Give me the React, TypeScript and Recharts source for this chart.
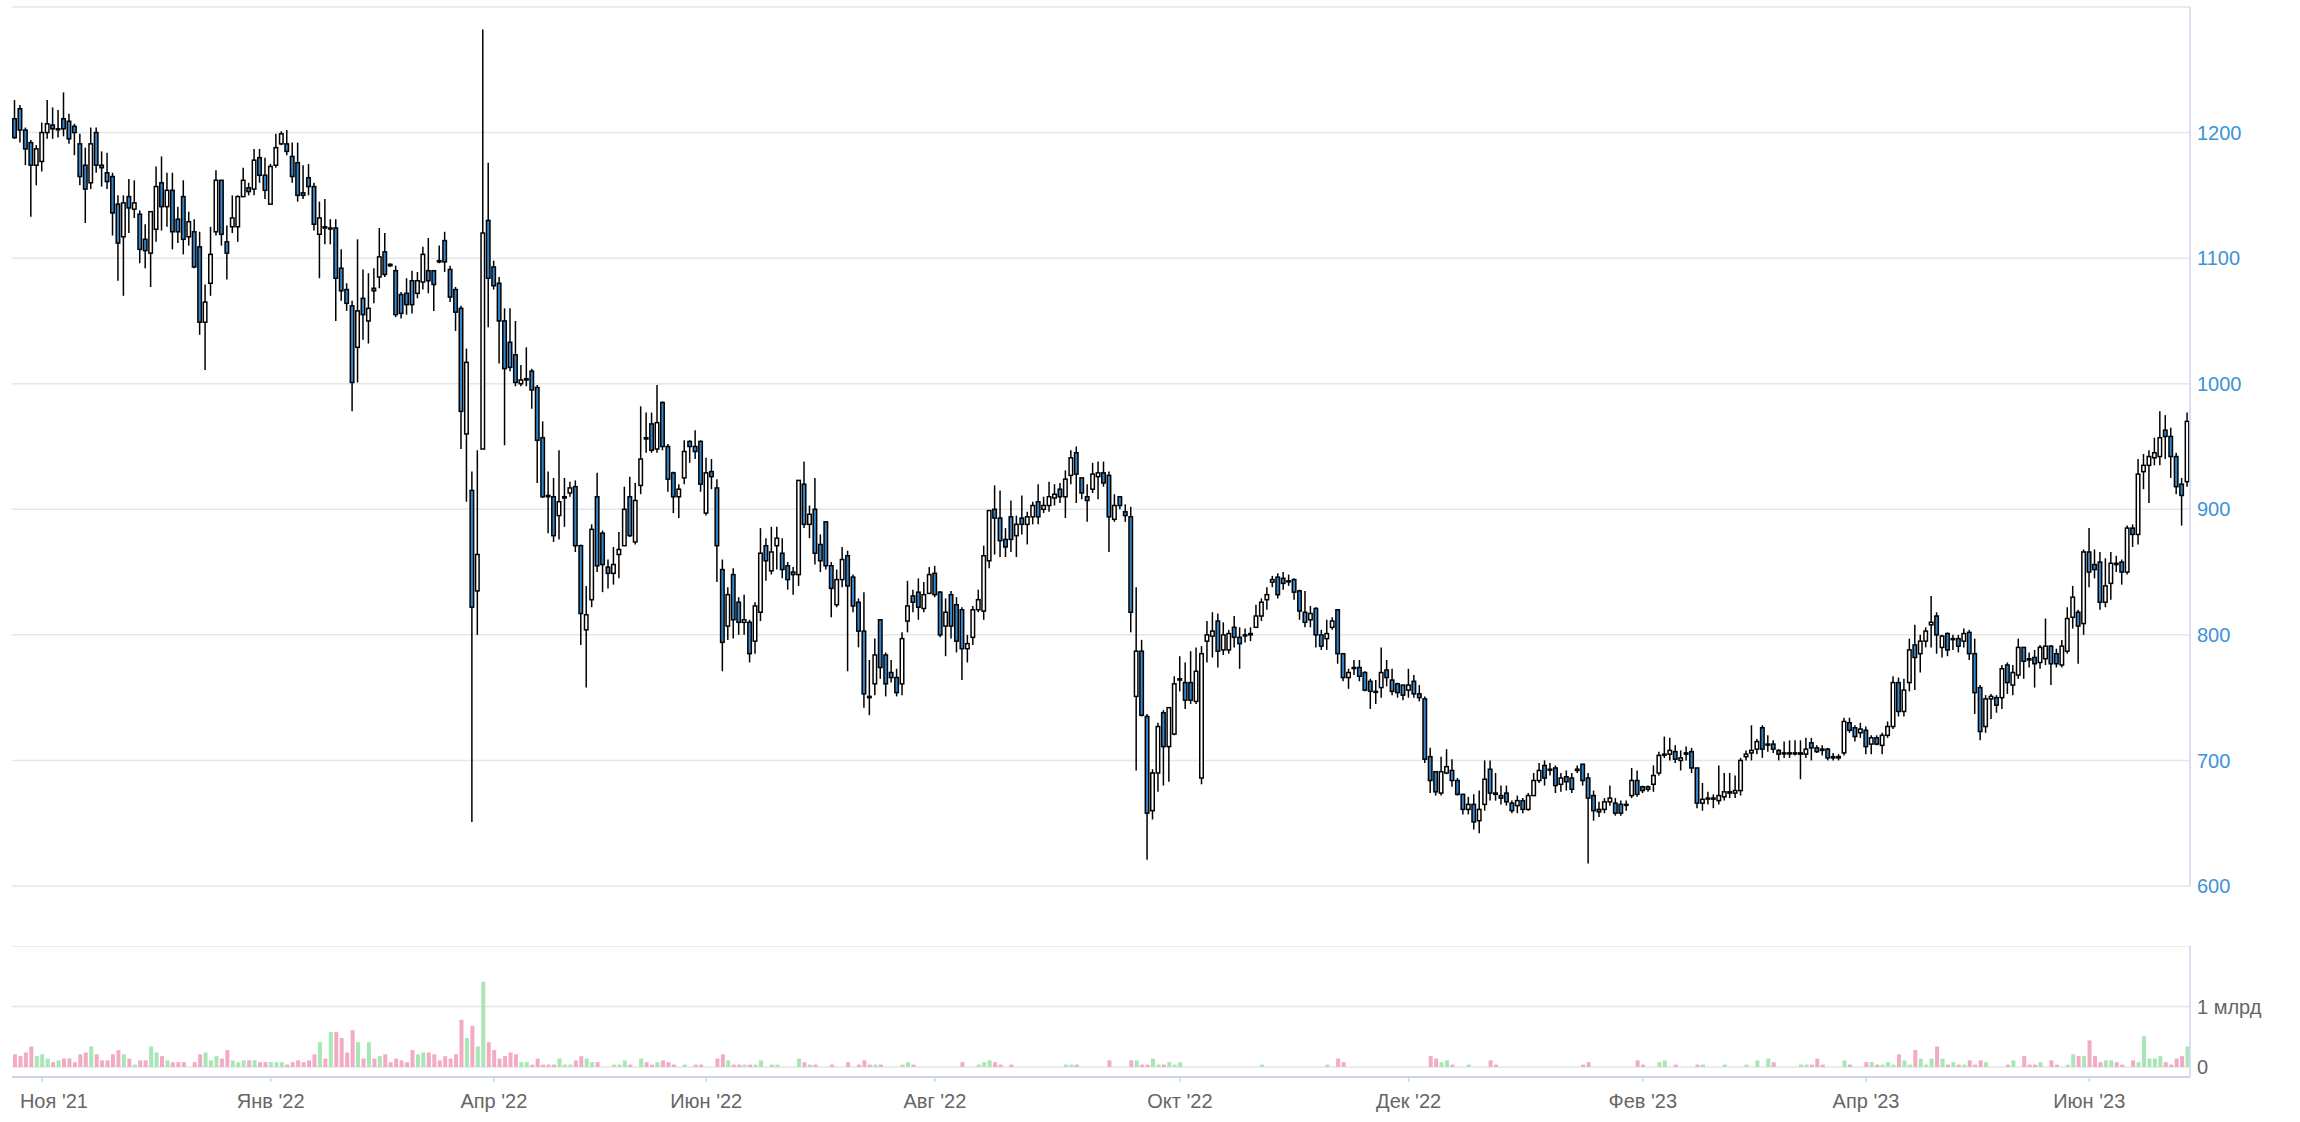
import { Bar, CartesianGrid, Cell, ComposedChart, XAxis, YAxis } from 'recharts';

// open, high, low, close per trading day (ordinal axis, no gaps)
const ohlc: [number, number, number, number][] = [
  [1211, 1226, 1195, 1196], [1219, 1222, 1192, 1202], [1202, 1204, 1174, 1187], [1192, 1194, 1133, 1174], [1174, 1190, 1158, 1187],
  [1177, 1208, 1169, 1200], [1200, 1226, 1195, 1207], [1206, 1220, 1195, 1203], [1203, 1218, 1196, 1203], [1211, 1232, 1197, 1203],
  [1209, 1215, 1191, 1195], [1205, 1207, 1182, 1200], [1191, 1199, 1158, 1165], [1174, 1188, 1128, 1155], [1160, 1204, 1155, 1191],
  [1200, 1204, 1168, 1174], [1174, 1185, 1157, 1172], [1168, 1184, 1155, 1161], [1165, 1168, 1118, 1136], [1143, 1150, 1082, 1112],
  [1117, 1150, 1070, 1144], [1149, 1163, 1120, 1140], [1139, 1162, 1132, 1144], [1135, 1138, 1096, 1107], [1115, 1127, 1092, 1106],
  [1104, 1137, 1077, 1137], [1123, 1173, 1113, 1157], [1160, 1181, 1122, 1141], [1141, 1168, 1125, 1154], [1154, 1168, 1107, 1121],
  [1131, 1141, 1112, 1121], [1149, 1162, 1103, 1115], [1117, 1137, 1110, 1129], [1121, 1131, 1092, 1093], [1109, 1121, 1039, 1049],
  [1049, 1079, 1011, 1065], [1080, 1125, 1070, 1103], [1121, 1170, 1118, 1162], [1162, 1162, 1110, 1119], [1113, 1126, 1083, 1104],
  [1125, 1150, 1120, 1132], [1125, 1150, 1113, 1149], [1149, 1172, 1149, 1162], [1156, 1160, 1150, 1153], [1155, 1187, 1150, 1178],
  [1180, 1187, 1160, 1166], [1166, 1180, 1147, 1154], [1143, 1175, 1143, 1173], [1174, 1199, 1172, 1188], [1191, 1201, 1190, 1199],
  [1191, 1202, 1182, 1185], [1181, 1192, 1160, 1165], [1176, 1192, 1145, 1150], [1152, 1174, 1147, 1150], [1164, 1175, 1150, 1157],
  [1157, 1160, 1122, 1127], [1119, 1145, 1084, 1132], [1125, 1147, 1111, 1124], [1124, 1131, 1111, 1124], [1124, 1131, 1050, 1084],
  [1092, 1107, 1066, 1074], [1075, 1080, 1058, 1064], [1062, 1066, 978, 1001], [1029, 1115, 1001, 1058], [1068, 1091, 1035, 1055],
  [1050, 1088, 1032, 1060], [1076, 1092, 1064, 1074], [1085, 1124, 1076, 1101], [1105, 1120, 1085, 1087], [1095, 1096, 1093, 1094],
  [1090, 1094, 1053, 1055], [1071, 1073, 1052, 1056], [1072, 1084, 1055, 1063], [1082, 1090, 1056, 1063], [1072, 1089, 1068, 1082],
  [1081, 1109, 1075, 1103], [1090, 1116, 1072, 1082], [1090, 1090, 1058, 1079], [1098, 1110, 1096, 1097], [1114, 1121, 1089, 1097],
  [1091, 1094, 1065, 1069], [1075, 1077, 1042, 1057], [1060, 1062, 948, 978], [960, 1028, 906, 1017], [915, 930, 651, 822],
  [835, 947, 800, 864], [948, 1282, 948, 1120], [1130, 1176, 1045, 1084], [1093, 1098, 1075, 1078], [1080, 1085, 1016, 1050],
  [1050, 1060, 951, 1012], [1033, 1060, 1010, 1013], [1023, 1050, 998, 1001], [1000, 1015, 998, 1003], [1003, 1029, 998, 1004],
  [1010, 1012, 980, 995], [997, 999, 921, 955], [957, 970, 909, 910], [911, 930, 881, 910], [910, 925, 874, 879],
  [895, 947, 876, 906], [909, 925, 886, 910], [913, 922, 910, 917], [918, 923, 866, 871], [871, 872, 792, 817],
  [804, 839, 758, 816], [828, 888, 822, 884], [910, 929, 850, 855], [881, 883, 834, 856], [854, 860, 837, 849],
  [849, 870, 840, 856], [864, 882, 845, 868], [871, 918, 871, 900], [910, 926, 878, 879], [874, 921, 872, 907],
  [919, 982, 912, 940], [957, 977, 945, 956], [968, 977, 945, 947], [948, 999, 945, 969], [985, 986, 947, 950],
  [950, 952, 914, 924], [929, 930, 897, 910], [910, 920, 893, 916], [925, 955, 920, 946], [954, 955, 937, 950],
  [950, 963, 940, 946], [954, 955, 914, 920], [897, 941, 895, 929], [930, 940, 916, 926], [917, 924, 842, 871],
  [852, 860, 771, 794], [807, 838, 796, 832], [848, 853, 797, 812], [826, 830, 800, 810], [810, 832, 800, 812],
  [810, 812, 778, 785], [795, 826, 785, 823], [818, 885, 811, 865], [871, 877, 843, 859], [851, 886, 848, 866],
  [871, 886, 852, 877], [865, 877, 845, 852], [855, 858, 836, 844], [850, 854, 832, 848], [848, 923, 839, 923],
  [920, 938, 885, 888], [888, 903, 877, 896], [900, 925, 856, 865], [872, 880, 850, 859], [890, 890, 852, 855],
  [855, 858, 814, 837], [824, 852, 822, 844], [844, 870, 838, 860], [863, 867, 771, 839], [846, 848, 818, 823],
  [826, 829, 790, 803], [803, 834, 742, 753], [751, 780, 736, 750], [761, 797, 752, 784], [812, 812, 765, 774],
  [784, 786, 751, 761], [770, 780, 762, 766], [766, 773, 751, 754], [761, 802, 752, 797], [811, 843, 802, 823],
  [831, 836, 818, 826], [834, 845, 812, 822], [821, 842, 818, 832], [833, 854, 833, 848], [849, 855, 830, 832],
  [834, 835, 798, 800], [807, 829, 783, 818], [832, 835, 797, 807], [824, 830, 786, 795], [820, 822, 764, 789],
  [789, 800, 778, 793], [798, 823, 792, 820], [820, 836, 818, 828], [819, 871, 812, 863], [859, 899, 853, 899],
  [900, 919, 864, 893], [893, 915, 862, 875], [876, 885, 862, 870], [894, 907, 866, 876], [879, 895, 862, 888],
  [893, 911, 880, 888], [888, 898, 872, 894], [894, 906, 888, 903], [906, 920, 888, 894], [900, 910, 897, 903],
  [903, 922, 898, 910], [909, 920, 903, 912], [916, 921, 905, 910], [910, 931, 893, 924], [927, 947, 920, 941],
  [945, 950, 905, 928], [925, 925, 908, 913], [910, 920, 890, 907], [916, 937, 913, 928], [926, 938, 908, 929],
  [929, 938, 918, 921], [927, 930, 866, 894], [892, 912, 890, 903], [910, 910, 900, 903], [898, 904, 890, 895],
  [894, 902, 802, 818], [751, 838, 692, 787], [787, 796, 735, 736], [735, 737, 621, 658], [660, 693, 653, 690],
  [690, 730, 675, 727], [738, 740, 680, 711], [711, 742, 683, 742], [721, 767, 720, 761], [764, 783, 755, 765],
  [762, 778, 741, 748], [762, 787, 745, 748], [747, 790, 745, 771], [686, 791, 681, 785], [795, 811, 778, 800],
  [799, 818, 782, 803], [811, 817, 774, 787], [788, 810, 784, 800], [788, 804, 785, 801], [806, 815, 790, 798],
  [798, 806, 773, 793], [800, 805, 794, 800], [800, 806, 795, 801], [806, 824, 806, 815], [815, 829, 811, 826],
  [828, 838, 820, 832], [842, 847, 838, 844], [846, 849, 829, 832], [845, 850, 836, 841], [843, 848, 839, 843],
  [844, 845, 828, 834], [835, 836, 812, 819], [818, 835, 806, 810], [812, 823, 806, 817], [821, 822, 790, 800],
  [800, 804, 788, 791], [797, 812, 788, 801], [806, 814, 804, 811], [820, 820, 777, 785], [785, 785, 763, 766],
  [766, 773, 757, 770], [774, 780, 768, 774], [774, 780, 763, 767], [770, 771, 755, 756], [763, 765, 741, 755],
  [755, 764, 745, 755], [758, 790, 750, 770], [772, 780, 759, 766], [764, 773, 752, 755], [761, 762, 750, 754],
  [760, 760, 748, 752], [756, 773, 750, 760], [763, 768, 750, 753], [753, 760, 747, 750], [749, 751, 698, 701],
  [703, 710, 674, 684], [691, 691, 672, 675], [674, 703, 672, 691], [690, 709, 689, 695], [692, 701, 679, 684],
  [684, 686, 672, 673], [673, 673, 657, 661], [661, 671, 657, 665], [665, 673, 645, 651], [652, 676, 642, 661],
  [665, 700, 660, 685], [693, 700, 668, 674], [674, 690, 668, 673], [672, 680, 665, 670], [674, 680, 664, 667],
  [666, 668, 658, 660], [664, 672, 658, 668], [668, 670, 658, 661], [661, 674, 660, 672], [672, 690, 672, 684],
  [684, 698, 682, 692], [696, 700, 680, 686], [693, 698, 688, 693], [694, 696, 674, 680], [681, 690, 675, 686],
  [687, 692, 676, 683], [686, 690, 674, 677], [693, 696, 690, 692], [697, 697, 680, 684], [686, 690, 618, 670],
  [672, 676, 652, 660], [661, 667, 655, 659], [661, 670, 658, 667], [667, 680, 664, 670], [666, 670, 656, 658],
  [665, 668, 656, 658], [665, 668, 660, 665], [672, 694, 670, 684], [684, 692, 671, 673], [679, 680, 674, 676],
  [679, 680, 675, 677], [681, 696, 675, 688], [690, 707, 688, 704], [705, 719, 702, 705], [705, 718, 700, 708],
  [707, 712, 698, 701], [700, 708, 692, 702], [705, 711, 700, 706], [707, 710, 690, 694], [694, 694, 662, 666],
  [666, 682, 660, 669], [670, 675, 665, 670], [670, 673, 662, 670], [668, 696, 665, 672], [671, 690, 668, 675],
  [675, 690, 670, 674], [674, 688, 670, 676], [676, 702, 672, 700], [703, 708, 700, 705], [706, 728, 700, 708],
  [709, 717, 705, 715], [726, 728, 702, 709], [713, 720, 707, 713], [713, 716, 706, 709], [708, 709, 700, 705],
  [706, 715, 702, 706], [706, 716, 702, 706], [706, 716, 704, 706], [705, 716, 685, 706], [705, 718, 702, 709],
  [714, 718, 700, 710], [710, 712, 706, 707], [709, 712, 704, 708], [709, 710, 700, 702], [703, 706, 700, 702],
  [702, 705, 700, 703], [706, 734, 704, 731], [730, 734, 722, 724], [726, 728, 715, 719], [722, 730, 718, 725],
  [724, 727, 705, 711], [713, 720, 705, 718], [718, 720, 712, 713], [712, 722, 705, 720], [720, 731, 718, 727],
  [727, 767, 725, 762], [762, 766, 735, 739], [739, 765, 735, 756], [762, 797, 755, 788], [792, 808, 756, 782],
  [785, 800, 770, 795], [795, 806, 790, 803], [808, 831, 790, 810], [815, 818, 785, 800], [790, 800, 782, 799],
  [801, 802, 783, 788], [797, 800, 788, 797], [797, 800, 786, 791], [795, 805, 790, 801], [802, 804, 780, 785],
  [785, 797, 737, 754], [758, 760, 716, 723], [727, 752, 722, 749], [749, 753, 733, 751], [750, 752, 738, 744],
  [750, 776, 741, 773], [776, 778, 753, 762], [760, 776, 752, 770], [768, 797, 765, 790], [790, 790, 765, 779],
  [781, 786, 774, 780], [782, 788, 758, 777], [778, 792, 773, 790], [781, 813, 776, 791], [791, 792, 760, 777],
  [785, 789, 774, 777], [776, 796, 774, 791], [787, 822, 785, 813], [814, 839, 805, 830], [818, 820, 777, 807],
  [809, 868, 800, 866], [866, 885, 838, 850], [856, 868, 845, 852], [858, 866, 820, 826], [826, 861, 822, 839],
  [841, 866, 828, 857], [857, 863, 850, 856], [858, 860, 840, 850], [850, 887, 848, 885], [885, 888, 870, 880],
  [880, 940, 872, 928], [930, 944, 916, 935], [935, 947, 905, 942], [941, 957, 935, 945], [942, 978, 935, 957],
  [963, 975, 940, 958], [958, 965, 925, 942], [942, 945, 912, 918], [920, 925, 887, 911], [922, 977, 918, 970],
];

// volume, millions of shares
const volume = [
  210, 180, 240, 340, 180, 210, 140, 80, 110, 140, 140, 80, 210, 240, 340, 210, 110, 110, 210, 280,
  210, 140, 40, 110, 110, 340, 240, 180, 110, 80, 80, 80, 0, 80, 210, 240, 110, 180, 140, 280,
  110, 80, 110, 110, 110, 80, 80, 80, 80, 80, 40, 80, 110, 80, 110, 210, 410, 140, 580, 580,
  480, 240, 610, 410, 140, 410, 140, 180, 210, 80, 140, 110, 80, 280, 210, 240, 240, 210, 110, 180,
  140, 210, 780, 480, 680, 340, 1410, 410, 280, 140, 180, 240, 210, 80, 80, 40, 140, 40, 40, 40,
  140, 40, 40, 110, 180, 140, 80, 80, 0, 0, 40, 40, 110, 40, 0, 140, 80, 40, 80, 110,
  80, 40, 0, 40, 0, 40, 40, 0, 0, 140, 210, 110, 40, 40, 40, 40, 40, 110, 0, 40,
  40, 0, 0, 0, 140, 80, 40, 40, 0, 0, 40, 0, 0, 80, 0, 40, 110, 40, 40, 40,
  0, 0, 0, 40, 80, 40, 0, 0, 0, 0, 0, 0, 0, 0, 80, 0, 0, 40, 80, 110,
  80, 40, 0, 40, 0, 0, 0, 0, 0, 0, 0, 0, 0, 40, 40, 40, 0, 0, 0, 0,
  0, 110, 0, 0, 0, 110, 110, 40, 40, 140, 40, 40, 80, 40, 80, 0, 0, 0, 0, 0,
  0, 0, 0, 0, 0, 0, 0, 0, 0, 40, 0, 0, 0, 0, 0, 0, 0, 0, 0, 0,
  0, 40, 0, 140, 80, 0, 0, 0, 0, 0, 0, 0, 0, 0, 0, 0, 0, 0, 0, 0,
  180, 140, 80, 110, 40, 0, 0, 40, 0, 0, 0, 110, 40, 0, 0, 0, 0, 0, 0, 0,
  0, 0, 0, 0, 0, 0, 0, 0, 40, 80, 0, 0, 0, 0, 0, 0, 0, 0, 110, 40,
  0, 0, 80, 110, 0, 40, 0, 0, 0, 40, 40, 0, 0, 0, 40, 0, 0, 0, 40, 0,
  110, 0, 140, 80, 0, 0, 0, 0, 40, 40, 40, 140, 40, 0, 0, 0, 110, 40, 0, 0,
  80, 80, 40, 40, 80, 40, 210, 110, 40, 280, 140, 40, 140, 340, 140, 40, 80, 40, 40, 110,
  40, 110, 80, 0, 0, 0, 40, 110, 0, 180, 40, 40, 80, 0, 110, 40, 0, 40, 210, 180,
  180, 440, 180, 80, 110, 110, 80, 40, 0, 110, 80, 510, 140, 140, 180, 80, 40, 140, 180, 340,
];

const tickIndex = [5, 47, 88, 127, 169, 214, 256, 299, 340, 381];
const tickLabels = ["Ноя '21", "Янв '22", "Апр '22", "Июн '22", "Авг '22", "Окт '22", "Дек '22", "Фев '23", "Апр '23", "Июн '23"];
const priceTicks = [600, 700, 800, 900, 1000, 1100, 1200, 1300];
const volumeTicks = [0, 1000, 2000];

const FONT = '"Liberation Sans", Arial, Helvetica, sans-serif';
const DOWN_FILL = '#3486cc';
const PRICE_LABEL = '#3d92d6';
const VOL_UP = '#a9e6b6';
const VOL_DOWN = '#f3abc5';
const GRID = '#e6e6e6';
const AXIS = '#ccd6eb';

const rows = ohlc.map(([o, h, l, c], i) => ({ i, o, h, l, c, range: [l, h], vol: volume[i] ?? 0 }));

const Candle = (props: any) => {
  const { x, y, width, height, payload } = props;
  if (!payload) return null;
  const { o, h, l, c } = payload;
  const top = Math.min(y, y + height);
  const bottom = Math.max(y, y + height);
  const span = h - l;
  const toY = (v: number) => (span === 0 ? top : top + ((h - v) / span) * (bottom - top));
  const cx = x + width / 2;
  const yo = toY(o);
  const yc = toY(c);
  const bodyTop = Math.min(yo, yc);
  const bodyH = Math.max(Math.abs(yo - yc), 1);
  return (
    <g>
      <line x1={cx} x2={cx} y1={top} y2={bottom} stroke="#000" strokeWidth={1.5} />
      <rect
        x={x + 0.75}
        y={bodyTop}
        width={Math.max(width - 1.5, 1)}
        height={bodyH}
        fill={c >= o ? '#ffffff' : DOWN_FILL}
        stroke="#000"
        strokeWidth={1.5}
      />
    </g>
  );
};

// x labels; the first one is nudged right so it stays inside the chart, as in the source
const DateTick = (props: any) => {
  const { x, y, payload } = props;
  const idx = tickIndex.indexOf(payload.value);
  const shift = idx === 0 ? 12 : 0;
  return (
    <text x={x + shift} y={y} dy="0.71em" textAnchor="middle" fill="#666666" fontSize={20} fontFamily={FONT}>
      {tickLabels[idx] ?? ''}
    </text>
  );
};

export default function App() {
  return (
    <div style={{ position: 'absolute', left: 0, top: 0, width: 2300, height: 1122, background: '#fff', fontFamily: FONT }}>
      <div style={{ position: 'absolute', left: 0, top: 0 }}>
        <ComposedChart width={2300} height={910} data={rows} margin={{ top: 7, right: 10, bottom: 24, left: 12 }}>
          <CartesianGrid vertical={false} stroke={GRID} strokeWidth={1.5} />
          <XAxis dataKey="i" type="category" hide />
          <YAxis
            orientation="right"
            domain={[600, 1300]}
            ticks={priceTicks}
            interval={0}
            allowDataOverflow
            width={100}
            axisLine={{ stroke: AXIS, strokeWidth: 1.5 }}
            tickLine={false}
            tickSize={0}
            tickMargin={7}
            tick={{ fill: PRICE_LABEL, fontSize: 20, fontFamily: FONT }}
            tickFormatter={(v: number) => (v === 1300 ? '' : String(v))}
          />
          <Bar dataKey="range" barSize={5} shape={Candle} isAnimationActive={false} />
        </ComposedChart>
      </div>
      <div style={{ position: 'absolute', left: 0, top: 946 }}>
        <ComposedChart width={2300} height={176} data={rows} margin={{ top: 0, right: 10, bottom: 0, left: 12 }}>
          <CartesianGrid vertical={false} stroke={GRID} strokeWidth={1.5} />
          <XAxis
            dataKey="i"
            type="category"
            ticks={tickIndex}
            interval={0}
            height={45}
            axisLine={{ stroke: AXIS, strokeWidth: 2 }}
            tickLine={{ stroke: AXIS, strokeWidth: 1.5 }}
            tickSize={5}
            tickMargin={12}
            tick={<DateTick />}
          />
          <YAxis
            orientation="right"
            domain={[-165, 2000]}
            ticks={volumeTicks}
            interval={0}
            allowDataOverflow
            width={100}
            axisLine={{ stroke: AXIS, strokeWidth: 1.5 }}
            tickLine={false}
            tickSize={0}
            tickMargin={7}
            tick={{ fill: '#666666', fontSize: 20, fontFamily: FONT }}
            tickFormatter={(v: number) => (v === 0 ? '0' : v === 1000 ? '1 млрд' : '')}
          />
          <Bar dataKey="vol" barSize={4} isAnimationActive={false}>
            {rows.map((r) => (
              <Cell key={r.i} fill={r.c >= r.o ? VOL_UP : VOL_DOWN} />
            ))}
          </Bar>
        </ComposedChart>
      </div>
    </div>
  );
}
